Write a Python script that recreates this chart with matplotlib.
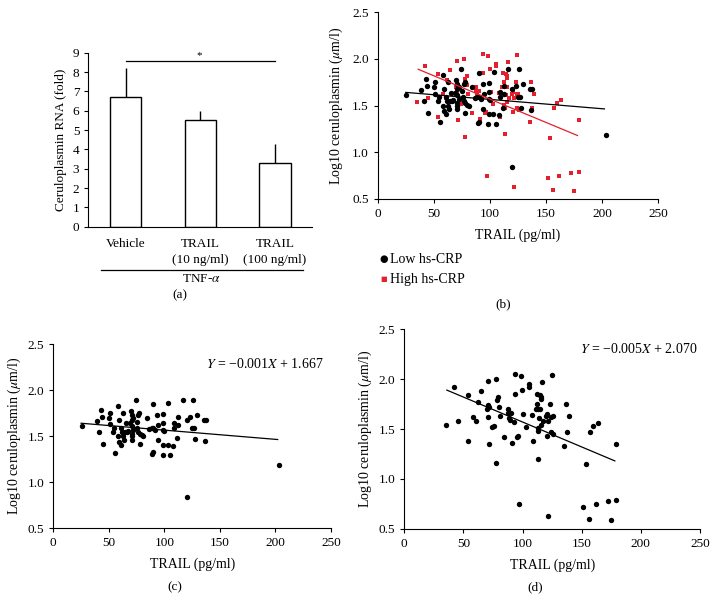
import matplotlib
matplotlib.use("Agg")
import matplotlib.pyplot as plt
import numpy as np

plt.rcParams['font.family'] = ['Liberation Serif', 'DejaVu Serif']
plt.rcParams['mathtext.fontset'] = 'stix'

# ---- Panel (a) data ----
bar_labels = ["Vehicle", "TRAIL\n(10 ng/ml)", "TRAIL\n(100 ng/ml)"]
bar_values = [6.7, 5.5, 3.28]
bar_errors = [1.5, 0.5, 1.02]

# ---- Low hs-CRP (panel c) ----
low_x = [25.5, 39, 43, 41, 44, 45, 51, 50, 51, 55.5, 54.6, 54, 58.5, 59, 58.5, 59.4, 60.6, 60.6,
         61.5, 63, 63, 63.6, 64.5, 65.4, 66, 67.5, 69, 69.6, 70.5, 70.5, 70.5, 70.5, 70.8, 70.5,
         72, 72, 74.4, 75, 75.6, 76.5, 76.5, 77.4, 78, 78, 79.5, 81, 84, 86.4, 88.8, 90, 89, 90,
         90, 92, 93.6, 93.9, 94.5, 98.4, 99, 99, 99, 99, 100, 103, 103.5, 105, 108, 109, 109,
         111.6, 112.5, 112.5, 116.4, 120, 120, 123, 126, 125, 127, 128, 129.6, 136, 137.5,
         136.5, 203.5]
low_y = [1.61, 1.67, 1.79, 1.55, 1.71, 1.42, 1.75, 1.70, 1.63, 1.32, 1.59, 1.55, 1.83, 1.68, 1.50,
         1.44, 1.41, 1.59, 1.55, 1.75, 1.50, 1.46, 1.55, 1.64, 1.55, 1.56, 1.64, 1.78, 1.73, 1.68,
         1.61, 1.53, 1.46, 1.50, 1.70, 1.57, 1.89, 1.66, 1.59, 1.55, 1.73, 1.75, 1.42, 1.53, 1.51,
         1.50, 1.70, 1.58, 1.59, 1.85, 1.31, 1.33, 1.59, 1.57, 1.73, 1.46, 1.62, 1.30, 1.41, 1.74,
         1.65, 1.57, 1.56, 1.41, 1.86, 1.30, 1.40, 1.59, 1.65, 1.48, 1.62, 1.71, 1.89, 0.84, 1.68,
         1.71, 1.89, 1.59, 1.59, 1.47, 1.73, 1.68, 1.68, 1.45, 1.19]

# ---- High hs-CRP (panel d) ----
high_x = [35, 42.3, 45, 54, 54, 58, 60.6, 62, 64.5, 70.5, 69.6, 70.5, 71, 71.6, 71.6, 74, 76, 77.2,
          77.5, 78, 79.5, 80, 80.5, 84.3, 87.4, 88, 88.5, 89.4, 90, 90.8, 92.7, 93.6, 94, 95.5,
          96.4, 97.2, 98.4, 99.8, 100.6, 102.9, 105.7, 105.7, 107.7, 109, 111, 112, 112.3, 112.8,
          112.8, 113, 113, 114, 114.7, 115, 115.3, 115.6, 115.3, 116, 117, 119.8, 120.3, 120.3,
          121.8, 121.8, 123.2, 123.7, 124.5, 124, 125.4, 126, 135.3, 136.4, 137.8, 139.2, 151.3,
          153.6, 156.4, 157, 159.8, 161.8, 163.5, 172.5, 174.5, 179, 179]
high_y = [1.54, 1.92, 1.58, 1.84, 1.38, 1.62, 1.58, 1.77, 1.88, 1.98, 1.70, 1.62, 1.74, 1.72, 1.35,
          1.52, 1.53, 2.00, 1.16, 1.79, 1.82, 1.72, 1.63, 1.42, 1.70, 1.66, 1.61, 1.59, 1.66, 1.36,
          1.57, 2.05, 1.85, 1.42, 1.43, 0.75, 2.03, 1.89, 1.65, 1.52, 1.95, 1.92, 1.64, 1.38, 1.70,
          1.85, 1.75, 1.70, 1.51, 1.48, 1.20, 1.61, 1.84, 1.70, 1.82, 1.80, 1.54, 1.97, 1.58, 1.63,
          1.65, 1.43, 1.58, 0.63, 1.75, 1.62, 2.04, 1.47, 1.63, 1.45, 1.33, 1.75, 1.47, 1.63, 0.72,
          1.15, 0.60, 1.47, 1.53, 0.75, 1.56, 0.78, 0.59, 0.79, 1.35]

# regression equations (slope, intercept) and fitted x range
low_fit = (-0.001, 1.667)
low_range = [25, 202]
high_fit = (-0.005, 2.070)
high_range = [36, 178]
low_eq = "$Y$ = \u22120.001$X$ + 1.667"
high_eq = "$Y$ = \u22120.005$X$ + 2.070"

RED = '#e4202e'
W, H = 718, 614
fig = plt.figure(figsize=(W / 100, H / 100), dpi=100)


def axrect(l, r, b, t):
    return [l / W, 1 - b / H, (r - l) / W, (b - t) / H]


LFS = 9.5

# ---------------- Panel (a) ----------------
axa = fig.add_axes(axrect(88.3, 312.3, 226.7, 52.7))
pos = np.arange(len(bar_values)) + 0.5
axa.bar(pos, bar_values, width=0.42, color='white', edgecolor='black', linewidth=1.0, zorder=2)
axa.errorbar(pos, bar_values, yerr=[np.zeros(3), bar_errors], fmt='none', ecolor='black',
             elinewidth=1.0, capsize=0, zorder=1)
axa.set_xlim(0, 3)
axa.set_ylim(0, 9)
axa.set_yticks(range(10))
axa.set_xticks(pos)
axa.set_xticklabels(bar_labels, fontsize=LFS, linespacing=1.5)
axa.tick_params(axis='x', length=0, pad=8)
axa.tick_params(axis='y', labelsize=LFS, length=3, direction='out')
axa.spines['top'].set_visible(False)
axa.spines['right'].set_visible(False)
axa.set_ylabel('Ceruloplasmin RNA (fold)', fontsize=LFS, labelpad=4)
axa.plot([pos[0], pos[2]], [8.57, 8.57], color='black', lw=0.9)
axa.text(1.48, 8.62, '*', ha='center', va='bottom', fontsize=8)
axa.plot([0.057, 0.958], [-0.249, -0.249], transform=axa.transAxes, color='black', lw=0.9,
         clip_on=False)
axa.text(0.506, -0.302, r'TNF-$\alpha$', transform=axa.transAxes, ha='center', va='center',
         fontsize=LFS)

# ---------------- scatter helper ----------------
def style_scatter(ax, ylpad=5):
    ax.set_xlim(0, 250)
    ax.set_ylim(0.5, 2.5)
    ax.set_xticks([0, 50, 100, 150, 200, 250])
    ax.set_yticks([0.5, 1.0, 1.5, 2.0, 2.5])
    ax.set_yticklabels(['0.5', '1.0', '1.5', '2.0', '2.5'])
    ax.tick_params(labelsize=LFS, length=3, direction='out')
    ax.spines['top'].set_visible(False)
    ax.spines['right'].set_visible(False)
    ax.set_xlabel('TRAIL (pg/ml)', fontsize=LFS + 0.5, labelpad=6)
    ax.set_ylabel(r'Log10 ceruloplasmin ($\mu$m/l)', fontsize=LFS + 0.5, labelpad=ylpad)


def fit_line(fit, rng):
    xs = np.array(rng, dtype=float)
    return xs, fit[0] * xs + fit[1]

# ---------------- Panel (b) ----------------
axb = fig.add_axes(axrect(377.7, 658.3, 199, 12.3))
axb.scatter(high_x, high_y, marker='s', s=7, color=RED, linewidths=0, zorder=2)
axb.scatter(low_x, low_y, marker='o', s=15, color='black', linewidths=0, zorder=3)
xs, ys = fit_line(low_fit, low_range)
axb.plot(xs, ys, color='black', lw=0.9, zorder=4)
xs, ys = fit_line(high_fit, high_range)
axb.plot(xs, ys, color=RED, lw=0.9, zorder=4)
style_scatter(axb, ylpad=5)
fig.text(383.3 / W, 1 - 259.3 / H, '\u25CF', fontsize=7, ha='center', va='center', color='black',
         family='DejaVu Sans')
fig.text(390 / W, 1 - 259.3 / H, 'Low hs-CRP', fontsize=LFS + 0.5, ha='left', va='center')
fig.text(383.3 / W, 1 - 279.3 / H, '\u25A0', fontsize=5, ha='center', va='center', color=RED,
         family='DejaVu Sans')
fig.text(390 / W, 1 - 279.3 / H, 'High hs-CRP', fontsize=LFS + 0.5, ha='left', va='center')

# ---------------- Panel (c) ----------------
axc = fig.add_axes(axrect(53.3, 331, 528.3, 344.3))
axc.scatter(low_x, low_y, marker='o', s=15, color='black', linewidths=0, zorder=3)
xs, ys = fit_line(low_fit, low_range)
axc.plot(xs, ys, color='black', lw=0.9)
style_scatter(axc, ylpad=3)
fig.text(323.3 / W, 1 - 364.3 / H, low_eq, ha='right', va='center', fontsize=LFS + 0.5)

# ---------------- Panel (d) ----------------
axd = fig.add_axes(axrect(404.3, 700, 528.7, 329.3))
axd.scatter(high_x, high_y, marker='o', s=15, color='black', linewidths=0, zorder=3)
xs, ys = fit_line(high_fit, high_range)
axd.plot(xs, ys, color='black', lw=0.9)
style_scatter(axd, ylpad=3)
fig.text(697.7 / W, 1 - 349.3 / H, high_eq, ha='right', va='center', fontsize=LFS + 0.5)

# panel letters
for lbl, x, y in [('(a)', 180, 295), ('(b)', 503.3, 304), ('(c)', 175, 587.3), ('(d)', 535, 587.3)]:
    fig.text(x / W, 1 - y / H, lbl, ha='center', va='center', fontsize=LFS)

fig.savefig('out.png', dpi=100)
